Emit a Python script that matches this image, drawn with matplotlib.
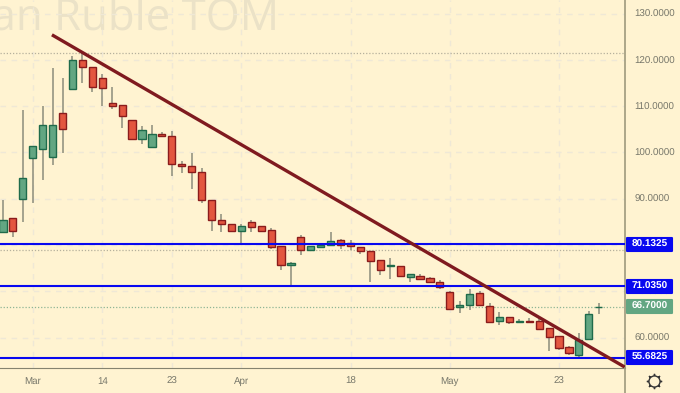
import matplotlib
matplotlib.use("Agg")
import matplotlib.pyplot as plt
from matplotlib.lines import Line2D
from matplotlib.patches import Rectangle
from matplotlib.transforms import blended_transform_factory

plt.rcParams['font.family'] = ['Liberation Sans', 'DejaVu Sans']
plt.rcParams['text.hinting'] = 'none'

# candles
opens = [82.9, 85.9, 89.9, 98.7, 100.8, 98.9, 108.6, 113.8, 120.0, 118.4,
         116.1, 110.6, 110.2, 107.1, 103.0, 101.1, 104.0, 103.5, 97.6, 97.0,
         95.8, 89.7, 85.3, 84.5, 83.1, 84.9, 84.0, 83.2, 79.7, 75.6,
         81.8, 79.0, 79.6, 80.0, 81.0, 80.5, 79.6, 78.6, 76.7, 75.4,
         75.5, 73.1, 73.2, 72.8, 72.0, 69.9, 66.6, 67.0, 69.6, 66.8,
         63.5, 64.5, 63.4, 63.5, 63.6, 62.0, 60.3, 58.0, 56.3, 59.8, 66.5]
highs = [89.7, 85.9, 109.2, 101.4, 110.0, 118.3, 116.0, 120.8, 121.5, 118.4,
         116.9, 114.1, 110.2, 107.1, 105.6, 105.9, 104.4, 104.7, 98.1, 99.8,
         96.6, 89.8, 86.6, 84.5, 84.5, 85.4, 84.1, 83.6, 79.8, 76.3,
         82.2, 79.8, 80.0, 82.9, 81.3, 81.1, 79.6, 78.6, 76.7, 77.1,
         75.5, 73.7, 73.7, 73.0, 72.4, 70.1, 67.8, 70.4, 70.1, 67.4,
         65.5, 64.5, 64.0, 64.2, 64.2, 62.0, 60.3, 58.1, 60.9, 65.8, 67.4]
lows = [82.9, 81.8, 85.0, 89.1, 94.0, 97.3, 99.9, 113.8, 115.0, 113.1,
        110.0, 109.3, 105.2, 103.0, 101.8, 101.1, 103.3, 95.0, 95.6, 92.2,
        89.1, 83.1, 82.7, 83.1, 80.2, 82.9, 82.7, 79.1, 74.5, 71.4,
        77.8, 78.7, 79.5, 79.8, 79.2, 78.9, 78.1, 72.0, 73.5, 72.7,
        73.2, 72.1, 72.6, 71.7, 70.4, 66.2, 65.4, 66.0, 67.1, 63.3,
        62.7, 62.9, 63.2, 63.1, 61.8, 57.2, 57.3, 56.2, 55.5, 59.7, 65.0]
closes = [85.4, 83.0, 94.5, 101.4, 105.9, 105.9, 105.0, 120.0, 118.4, 114.2,
          114.0, 110.1, 107.9, 103.0, 104.8, 104.0, 103.5, 97.6, 97.0, 95.8,
          89.7, 85.3, 84.5, 83.1, 84.0, 83.9, 83.1, 79.6, 75.6, 76.1,
          79.0, 79.7, 80.0, 80.9, 79.9, 79.7, 78.6, 76.5, 74.7, 75.6,
          73.2, 73.7, 72.7, 71.9, 70.9, 66.2, 67.1, 69.4, 67.1, 63.3,
          64.5, 63.3, 63.6, 63.3, 61.8, 60.2, 57.7, 56.7, 59.5, 65.2, 66.7]

levels = [80.1325, 71.035, 55.6825]
level_labels = ["80.1325", "71.0350", "55.6825"]
dotted_levels = [121.4, 79.0]
last_price = 66.7
trend_x = [4.93, 62.64]
trend_y = [125.4, 53.6]

y_grid = [60, 70, 80, 90, 100, 110, 120, 130]
y_ticks = [60, 70, 90, 100, 110, 120, 130]  # 80 sits behind its price box
x_ticks = [3, 10, 17, 24, 35, 45, 56]
x_labels = ["Mar", "14", "23", "Apr", "18", "May", "23"]

BG = "#fff3d1"
RED = "#e3563f"
RED_EDGE = "#8a1c1c"
GREEN = "#62a682"
GREEN_EDGE = "#1f6b4b"
WICK = "#8c8c7c"
TXT = "#77776a"
AXIS = "#9e9a7e"
BLUE = "#0808f0"

fig = plt.figure(figsize=(6.8, 3.93), dpi=100, facecolor=BG)
ax = fig.add_axes([0, 25 / 393, 625 / 680, 368 / 393], facecolor=BG)
ax.set_xlim(-0.30, 62.64)
ax.set_ylim(53.43, 132.92)

ax.set_axisbelow(True)
ax.grid(True, axis="x", color="#efe8d6", lw=1, ls=(0, (4, 4)))
ax.hlines(y_grid, -0.30, 62.64, color="#efe8d6", lw=1, ls=(0, (4, 4)), zorder=0.5)

# watermark, runs off the top left
ax.text(27.8, 126.6, "Russian Ruble TOM", fontsize=31.5, color="#ebe2c7",
        ha="right", va="baseline", family="Open Sans", clip_on=True, zorder=0)

for v in dotted_levels:
    ax.axhline(v, color="#b5b09c", lw=0.9, ls=(0, (1, 1.5)), zorder=1)
ax.axhline(last_price, color="#8fb595", lw=0.9, ls=(0, (1, 1.5)), zorder=1)

for i in range(len(opens)):
    up = closes[i] >= opens[i]
    ax.vlines(i, lows[i], highs[i], color=WICK, lw=1.1, zorder=2)
    ax.bar(i, abs(closes[i] - opens[i]), bottom=min(opens[i], closes[i]), width=0.72,
           color=GREEN if up else RED, edgecolor=GREEN_EDGE if up else RED_EDGE,
           linewidth=1.0, zorder=3)

for v in levels:
    ax.axhline(v, color=BLUE, lw=1.5, zorder=4)
ax.plot(trend_x, trend_y, color="#7f1a1f", lw=2.4, zorder=5, solid_capstyle="butt")

ax.yaxis.tick_right()
ax.set_yticks(y_ticks)
ax.set_yticklabels(["%.4f" % v for v in y_ticks])
ax.set_xticks(x_ticks)
ax.set_xticklabels(x_labels)
ax.tick_params(axis="both", length=0, labelsize=7, labelcolor=TXT)
ax.tick_params(axis="y", pad=7)
ax.tick_params(axis="x", pad=6.5)

for s in ["top", "left"]:
    ax.spines[s].set_visible(False)
ax.spines["right"].set_color(AXIS)
ax.spines["right"].set_linewidth(1.2)
ax.spines["bottom"].set_color("#85836f")
ax.spines["bottom"].set_linewidth(0.8)
fig.add_artist(Line2D([625 / 680, 625 / 680], [0, 25 / 393], color=AXIS, lw=1.2))

# price boxes on the scale
tr = blended_transform_factory(fig.transFigure, ax.transData)
box_h = 2.9
for v, lab, col in zip(levels + [last_price], level_labels + ["%.4f" % last_price],
                       [BLUE, BLUE, BLUE, GREEN]):
    ax.add_patch(Rectangle((627 / 680, v - box_h / 2), 45 / 680, box_h, transform=tr, fc=col,
                           ec=col, lw=1.5, joinstyle="round", clip_on=False, zorder=6))
    ax.text(649.5 / 680, v, lab, transform=tr, color="white", fontsize=7.2, weight="bold",
            ha="center", va="center", zorder=7, clip_on=False)

# gear at the bottom right
fig.add_artist(Line2D([654 / 680], [12 / 393], marker=(8, 2, 0), ms=11, mew=1, color="#333333"))
fig.add_artist(Line2D([654 / 680], [12 / 393], marker="o", ms=8, mew=1, mec="#333333", mfc=BG))

fig.savefig("out.png", dpi=100, facecolor=BG)
